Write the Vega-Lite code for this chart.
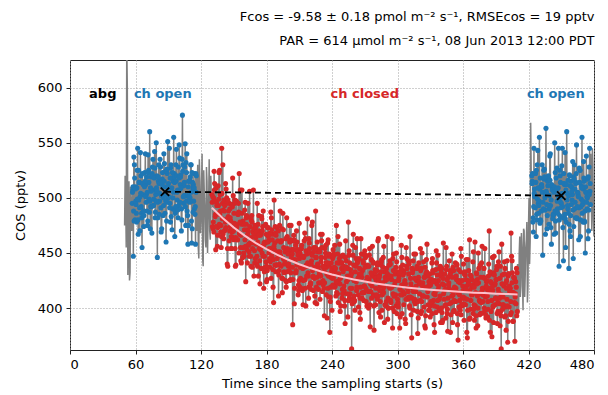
{
"$schema":"https://vega.github.io/schema/vega-lite/v6.json",
"width":524,"height":290,
"autosize":{"type":"none"},
"padding":{"left":70,"top":60,"right":14,"bottom":45},
"title":{"text":["Fᴄᴏꜱ = -9.58 ± 0.18 pmol m⁻² s⁻¹,  RMSEᴄᴏꜱ = 19 pptv","PAR = 614 μmol m⁻² s⁻¹,  08 Jun 2013 12:00 PDT"],"anchor":"end","align":"right","font":"DejaVu Sans","fontSize":13,"fontWeight":"normal","color":"black","lineHeight":24,"offset":12},
"config":{
"view":{"stroke":"#222","strokeWidth":1},
"axis":{"labelFont":"DejaVu Sans","titleFont":"DejaVu Sans","labelFontSize":13,"titleFontSize":13,"titleFontWeight":"normal","labelColor":"black","titleColor":"black","tickColor":"#222","tickSize":4,"domain":false,"grid":true,"gridColor":"#a0a0a0","gridDash":[1,2],"gridWidth":1}
},
"datasets":{
"ts":[
{"t":50,"v":475},{"t":51,"v":500},{"t":52,"v":640},{"t":53,"v":430},{"t":54,"v":515},{"t":55,"v":432},{"t":56,"v":490},
{"t":50.5,"v":520},{"t":51.5,"v":455},{"t":52.5,"v":600},{"t":53.5,"v":500},{"t":54.5,"v":425},{"t":55.5,"v":510},{"t":56.5,"v":470},
{"t":57,"v":495},{"t":58,"v":447},{"t":59,"v":530},{"t":60,"v":510},{"t":61,"v":478},{"t":62,"v":545},{"t":63,"v":498},{"t":64,"v":470},{"t":65,"v":520},{"t":66,"v":455},{"t":67,"v":512},{"t":68,"v":488},{"t":69,"v":540},{"t":70,"v":503},
{"t":71,"v":475},{"t":72,"v":525},{"t":73,"v":560},{"t":74,"v":492},{"t":75,"v":468},{"t":76,"v":535},{"t":77,"v":507},{"t":78,"v":482},{"t":79,"v":550},{"t":80,"v":446},{"t":81,"v":515},{"t":82,"v":497},{"t":83,"v":528},{"t":84,"v":472},{"t":85,"v":510},{"t":86,"v":540},{"t":87,"v":486},{"t":88,"v":460},{"t":89,"v":522},{"t":90,"v":500},
{"t":91,"v":545},{"t":92,"v":478},{"t":93,"v":518},{"t":94,"v":490},{"t":95,"v":555},{"t":96,"v":465},{"t":97,"v":530},{"t":98,"v":505},{"t":99,"v":482},{"t":100,"v":548},{"t":101,"v":512},{"t":102,"v":470},{"t":103,"v":575},{"t":104,"v":495},{"t":105,"v":528},{"t":106,"v":475},{"t":107,"v":540},{"t":108,"v":458},{"t":109,"v":515},{"t":110,"v":500},
{"t":111,"v":530},{"t":112,"v":472},{"t":113,"v":512},{"t":114,"v":490},{"t":115,"v":458},
{"t":57.5,"v":507},{"t":58.5,"v":537},{"t":59.5,"v":480},{"t":60.5,"v":494},{"t":61.5,"v":525},{"t":62.5,"v":467},{"t":63.5,"v":514},{"t":64.5,"v":541},{"t":65.5,"v":486},{"t":66.5,"v":503},
{"t":67.5,"v":474},{"t":68.5,"v":523},{"t":69.5,"v":512},{"t":70.5,"v":488},{"t":71.5,"v":539},{"t":72.5,"v":499},{"t":73.5,"v":472},{"t":74.5,"v":519},{"t":75.5,"v":528},{"t":76.5,"v":493},
{"t":77.5,"v":542},{"t":78.5,"v":503},{"t":79.5,"v":520},{"t":80.5,"v":482},{"t":81.5,"v":513},{"t":82.5,"v":535},{"t":83.5,"v":469},{"t":84.5,"v":517},{"t":85.5,"v":500},{"t":86.5,"v":531},
{"t":87.5,"v":524},{"t":88.5,"v":479},{"t":89.5,"v":551},{"t":90.5,"v":508},{"t":91.5,"v":495},{"t":92.5,"v":530},{"t":93.5,"v":471},{"t":94.5,"v":515},{"t":95.5,"v":522},{"t":96.5,"v":486},
{"t":97.5,"v":544},{"t":98.5,"v":507},{"t":99.5,"v":493},{"t":100.5,"v":536},{"t":101.5,"v":521},{"t":102.5,"v":480},{"t":103.5,"v":530},{"t":104.5,"v":502},{"t":105.5,"v":549},{"t":106.5,"v":497},
{"t":107.5,"v":502},{"t":108.5,"v":475},{"t":109.5,"v":516},{"t":110.5,"v":530},{"t":111.5,"v":459},{"t":112.5,"v":509},{"t":113.5,"v":522},{"t":114.5,"v":485},{"t":115.5,"v":505},
{"t":57.25,"v":505},{"t":58.25,"v":488},{"t":59.25,"v":518},{"t":60.25,"v":497},{"t":61.25,"v":509},{"t":62.25,"v":480},{"t":63.25,"v":514},{"t":64.25,"v":501},{"t":65.25,"v":492},{"t":66.25,"v":522},
{"t":57.75,"v":510},{"t":58.75,"v":479},{"t":59.75,"v":508},{"t":60.75,"v":486},{"t":61.75,"v":499},{"t":62.75,"v":525},{"t":63.75,"v":491},{"t":64.75,"v":504},{"t":65.75,"v":482},{"t":66.75,"v":513},
{"t":67.25,"v":488},{"t":68.25,"v":510},{"t":69.25,"v":501},{"t":70.25,"v":519},{"t":71.25,"v":479},{"t":72.25,"v":514},{"t":73.25,"v":497},{"t":74.25,"v":506},{"t":75.25,"v":522},{"t":76.25,"v":493},
{"t":67.75,"v":484},{"t":68.75,"v":515},{"t":69.75,"v":496},{"t":70.75,"v":505},{"t":71.75,"v":523},{"t":72.75,"v":487},{"t":73.75,"v":509},{"t":74.75,"v":492},{"t":75.75,"v":520},{"t":76.75,"v":499},
{"t":77.25,"v":518},{"t":78.25,"v":487},{"t":79.25,"v":509},{"t":80.25,"v":496},{"t":81.25,"v":530},{"t":82.25,"v":504},{"t":83.25,"v":491},{"t":84.25,"v":513},{"t":85.25,"v":484},{"t":86.25,"v":515},
{"t":77.75,"v":527},{"t":78.75,"v":497},{"t":79.75,"v":506},{"t":80.75,"v":519},{"t":81.75,"v":485},{"t":82.75,"v":514},{"t":83.75,"v":502},{"t":84.75,"v":523},{"t":85.75,"v":493},{"t":86.75,"v":510},
{"t":87.25,"v":503},{"t":88.25,"v":524},{"t":89.25,"v":496},{"t":90.25,"v":513},{"t":91.25,"v":491},{"t":92.25,"v":527},{"t":93.25,"v":509},{"t":94.25,"v":500},{"t":95.25,"v":519},{"t":96.25,"v":488},
{"t":87.75,"v":497},{"t":88.75,"v":526},{"t":89.75,"v":510},{"t":90.75,"v":501},{"t":91.75,"v":518},{"t":92.75,"v":483},{"t":93.75,"v":523},{"t":94.75,"v":505},{"t":95.75,"v":514},{"t":96.75,"v":492},
{"t":97.25,"v":515},{"t":98.25,"v":498},{"t":99.25,"v":528},{"t":100.25,"v":507},{"t":101.25,"v":519},{"t":102.25,"v":490},{"t":103.25,"v":524},{"t":104.25,"v":511},{"t":105.25,"v":502},{"t":106.25,"v":532},
{"t":97.75,"v":520},{"t":98.75,"v":489},{"t":99.75,"v":518},{"t":100.75,"v":496},{"t":101.75,"v":509},{"t":102.75,"v":535},{"t":103.75,"v":501},{"t":104.75,"v":514},{"t":105.75,"v":492},{"t":106.75,"v":523},
{"t":107.25,"v":488},{"t":108.25,"v":510},{"t":109.25,"v":501},{"t":110.25,"v":519},{"t":111.25,"v":479},{"t":112.25,"v":514},{"t":113.25,"v":497},{"t":114.25,"v":506},{"t":115.25,"v":522},
{"t":107.75,"v":484},{"t":108.75,"v":515},{"t":109.75,"v":496},{"t":110.75,"v":505},{"t":111.75,"v":523},{"t":112.75,"v":487},{"t":113.75,"v":509},{"t":114.75,"v":492},{"t":115.75,"v":520},
{"t":116,"v":470},{"t":117,"v":530},{"t":118,"v":445},{"t":119,"v":515},{"t":120,"v":480},{"t":121,"v":540},{"t":122,"v":438},{"t":123,"v":505},{"t":124,"v":462},{"t":125,"v":528},{"t":126,"v":450},{"t":127,"v":498},{"t":128,"v":470},{"t":129,"v":520},
{"t":116.5,"v":505},{"t":117.5,"v":455},{"t":118.5,"v":535},{"t":119.5,"v":468},{"t":120.5,"v":510},{"t":121.5,"v":445},{"t":122.5,"v":525},{"t":123.5,"v":490},{"t":124.5,"v":455},{"t":125.5,"v":515},{"t":126.5,"v":480},{"t":127.5,"v":535},{"t":128.5,"v":462},{"t":129.5,"v":500},
{"t":130,"v":503},{"t":131,"v":472},{"t":132,"v":524},{"t":133,"v":483},{"t":134,"v":509},{"t":135,"v":456},{"t":136,"v":493},{"t":137,"v":525},{"t":138,"v":469},{"t":139,"v":545},
{"t":130.5,"v":474},{"t":131.5,"v":500},{"t":132.5,"v":513},{"t":133.5,"v":453},{"t":134.5,"v":493},{"t":135.5,"v":473},{"t":136.5,"v":523},{"t":137.5,"v":503},{"t":138.5,"v":455},{"t":139.5,"v":481},
{"t":130.25,"v":496},{"t":131.25,"v":478},{"t":132.25,"v":507},{"t":133.25,"v":485},{"t":134.25,"v":496},{"t":135.25,"v":466},{"t":136.25,"v":499},{"t":137.25,"v":485},{"t":138.25,"v":475},{"t":139.25,"v":504},
{"t":130.75,"v":501},{"t":131.75,"v":469},{"t":132.75,"v":497},{"t":133.75,"v":474},{"t":134.75,"v":486},{"t":135.75,"v":511},{"t":136.75,"v":476},{"t":137.75,"v":488},{"t":138.75,"v":465},{"t":139.75,"v":495},
{"t":140,"v":530},{"t":141,"v":498},{"t":142,"v":471},{"t":143,"v":508},{"t":144,"v":440},{"t":145,"v":483},{"t":146,"v":495},{"t":147,"v":474},{"t":148,"v":454},{"t":149,"v":518},
{"t":140.5,"v":489},{"t":141.5,"v":470},{"t":142.5,"v":513},{"t":143.5,"v":500},{"t":144.5,"v":438},{"t":145.5,"v":480},{"t":146.5,"v":490},{"t":147.5,"v":454},{"t":148.5,"v":469},{"t":149.5,"v":502},
{"t":140.25,"v":467},{"t":141.25,"v":488},{"t":142.25,"v":478},{"t":143.25,"v":495},{"t":144.25,"v":454},{"t":145.25,"v":488},{"t":146.25,"v":470},{"t":147.25,"v":479},{"t":148.25,"v":494},{"t":149.25,"v":464},
{"t":140.75,"v":463},{"t":141.75,"v":493},{"t":142.75,"v":473},{"t":143.75,"v":481},{"t":144.75,"v":498},{"t":145.75,"v":461},{"t":146.75,"v":482},{"t":147.75,"v":465},{"t":148.75,"v":492},{"t":149.75,"v":470},
{"t":150,"v":462},{"t":151,"v":498},{"t":152,"v":439},{"t":153,"v":475},{"t":154,"v":485},{"t":155,"v":522},{"t":156,"v":507},{"t":157,"v":441},{"t":158,"v":477},{"t":159,"v":450},
{"t":150.5,"v":477},{"t":151.5,"v":438},{"t":152.5,"v":497},{"t":153.5,"v":462},{"t":154.5,"v":487},{"t":155.5,"v":467},{"t":156.5,"v":443},{"t":157.5,"v":507},{"t":158.5,"v":479},{"t":159.5,"v":447},
{"t":150.25,"v":486},{"t":151.25,"v":454},{"t":152.25,"v":476},{"t":153.25,"v":462},{"t":154.25,"v":495},{"t":155.25,"v":468},{"t":156.25,"v":455},{"t":157.25,"v":476},{"t":158.25,"v":446},{"t":159.25,"v":476},
{"t":150.75,"v":495},{"t":151.75,"v":464},{"t":152.75,"v":473},{"t":153.75,"v":485},{"t":154.75,"v":450},{"t":155.75,"v":478},{"t":156.75,"v":466},{"t":157.75,"v":486},{"t":158.75,"v":455},{"t":159.75,"v":471},
{"t":160,"v":489},{"t":161,"v":424},{"t":162,"v":471},{"t":163,"v":495},{"t":164,"v":451},{"t":165,"v":459},{"t":166,"v":480},{"t":167,"v":437},{"t":168,"v":507},{"t":169,"v":452},
{"t":160.5,"v":496},{"t":161.5,"v":476},{"t":162.5,"v":441},{"t":163.5,"v":457},{"t":164.5,"v":506},{"t":165.5,"v":447},{"t":166.5,"v":484},{"t":167.5,"v":469},{"t":168.5,"v":429},{"t":169.5,"v":475},
{"t":160.25,"v":462},{"t":161.25,"v":482},{"t":162.25,"v":453},{"t":163.25,"v":470},{"t":164.25,"v":447},{"t":165.25,"v":482},{"t":166.25,"v":464},{"t":167.25,"v":454},{"t":168.25,"v":472},{"t":169.25,"v":441},
{"t":160.75,"v":456},{"t":161.75,"v":484},{"t":162.75,"v":467},{"t":163.75,"v":458},{"t":164.75,"v":474},{"t":165.75,"v":438},{"t":166.75,"v":478},{"t":167.75,"v":459},{"t":168.75,"v":467},{"t":169.75,"v":445},
{"t":170,"v":473},{"t":171,"v":440},{"t":172,"v":460},{"t":173,"v":484},{"t":174,"v":422},{"t":175,"v":467},{"t":176,"v":450},{"t":177,"v":488},{"t":178,"v":433},{"t":179,"v":459},
{"t":170.5,"v":458},{"t":171.5,"v":495},{"t":172.5,"v":429},{"t":173.5,"v":470},{"t":174.5,"v":453},{"t":175.5,"v":483},{"t":176.5,"v":474},{"t":177.5,"v":418},{"t":178.5,"v":460},{"t":179.5,"v":442},
{"t":170.25,"v":464},{"t":171.25,"v":447},{"t":172.25,"v":476},{"t":173.25,"v":454},{"t":174.25,"v":466},{"t":175.25,"v":436},{"t":176.25,"v":470},{"t":177.25,"v":456},{"t":178.25,"v":447},{"t":179.25,"v":476},
{"t":170.75,"v":469},{"t":171.75,"v":438},{"t":172.75,"v":466},{"t":173.75,"v":443},{"t":174.75,"v":456},{"t":175.75,"v":481},{"t":176.75,"v":447},{"t":177.75,"v":459},{"t":178.75,"v":437},{"t":179.75,"v":467},
{"t":180,"v":424},{"t":181,"v":473},{"t":182,"v":461},{"t":183,"v":437},{"t":184,"v":487},{"t":185,"v":447},{"t":186,"v":419},{"t":187,"v":498},{"t":188,"v":474},{"t":189,"v":439},
{"t":180.5,"v":426},{"t":181.5,"v":473},{"t":182.5,"v":454},{"t":183.5,"v":442},{"t":184.5,"v":482},{"t":185.5,"v":467},{"t":186.5,"v":405},{"t":187.5,"v":459},{"t":188.5,"v":433},{"t":189.5,"v":473},
{"t":180.25,"v":438},{"t":181.25,"v":460},{"t":182.25,"v":450},{"t":183.25,"v":468},{"t":184.25,"v":427},{"t":185.25,"v":462},{"t":186.25,"v":444},{"t":187.25,"v":453},{"t":188.25,"v":468},{"t":189.25,"v":439},
{"t":180.75,"v":434},{"t":181.75,"v":465},{"t":182.75,"v":445},{"t":183.75,"v":454},{"t":184.75,"v":471},{"t":185.75,"v":435},{"t":186.75,"v":456},{"t":187.75,"v":439},{"t":188.75,"v":466},{"t":189.75,"v":445},
{"t":190,"v":449},{"t":191,"v":411},{"t":192,"v":475},{"t":193,"v":460},{"t":194,"v":427},{"t":195,"v":486},{"t":196,"v":433},{"t":197,"v":451},{"t":198,"v":419},{"t":199,"v":465},
{"t":190.5,"v":451},{"t":191.5,"v":434},{"t":192.5,"v":488},{"t":193.5,"v":461},{"t":194.5,"v":414},{"t":195.5,"v":471},{"t":196.5,"v":440},{"t":197.5,"v":425},{"t":198.5,"v":482},{"t":199.5,"v":451},
{"t":190.25,"v":461},{"t":191.25,"v":430},{"t":192.25,"v":451},{"t":193.25,"v":438},{"t":194.25,"v":472},{"t":195.25,"v":445},{"t":196.25,"v":432},{"t":197.25,"v":453},{"t":198.25,"v":424},{"t":199.25,"v":454},
{"t":190.75,"v":470},{"t":191.75,"v":440},{"t":192.75,"v":448},{"t":193.75,"v":461},{"t":194.75,"v":427},{"t":195.75,"v":455},{"t":196.75,"v":443},{"t":197.75,"v":463},{"t":198.75,"v":433},{"t":199.75,"v":449},
{"t":200,"v":438},{"t":201,"v":475},{"t":202,"v":426},{"t":203,"v":453},{"t":204,"v":385},{"t":205,"v":466},{"t":206,"v":444},{"t":207,"v":432},{"t":208,"v":460},{"t":209,"v":412},
{"t":200.5,"v":439},{"t":201.5,"v":425},{"t":202.5,"v":475},{"t":203.5,"v":449},{"t":204.5,"v":461},{"t":205.5,"v":404},{"t":206.5,"v":432},{"t":207.5,"v":470},{"t":208.5,"v":451},{"t":209.5,"v":416},
{"t":200.25,"v":440},{"t":201.25,"v":460},{"t":202.25,"v":432},{"t":203.25,"v":449},{"t":204.25,"v":426},{"t":205.25,"v":462},{"t":206.25,"v":443},{"t":207.25,"v":434},{"t":208.25,"v":453},{"t":209.25,"v":421},
{"t":200.75,"v":434},{"t":201.75,"v":462},{"t":202.75,"v":446},{"t":203.75,"v":437},{"t":204.75,"v":453},{"t":205.75,"v":418},{"t":206.75,"v":457},{"t":207.75,"v":439},{"t":208.75,"v":448},{"t":209.75,"v":425},
{"t":210,"v":477},{"t":211,"v":437},{"t":212,"v":454},{"t":213,"v":416},{"t":214,"v":446},{"t":215,"v":468},{"t":216,"v":402},{"t":217,"v":449},{"t":218,"v":432},{"t":219,"v":463},
{"t":210.5,"v":419},{"t":211.5,"v":454},{"t":212.5,"v":447},{"t":213.5,"v":403},{"t":214.5,"v":461},{"t":215.5,"v":426},{"t":216.5,"v":439},{"t":217.5,"v":481},{"t":218.5,"v":409},{"t":219.5,"v":454},
{"t":210.25,"v":445},{"t":211.25,"v":427},{"t":212.25,"v":457},{"t":213.25,"v":436},{"t":214.25,"v":447},{"t":215.25,"v":418},{"t":216.25,"v":452},{"t":217.25,"v":438},{"t":218.25,"v":429},{"t":219.25,"v":459},
{"t":210.75,"v":450},{"t":211.75,"v":418},{"t":212.75,"v":447},{"t":213.75,"v":425},{"t":214.75,"v":437},{"t":215.75,"v":463},{"t":216.75,"v":429},{"t":217.75,"v":441},{"t":218.75,"v":419},{"t":219.75,"v":450},
{"t":220,"v":422},{"t":221,"v":440},{"t":222,"v":478},{"t":223,"v":416},{"t":224,"v":427},{"t":225,"v":488},{"t":226,"v":404},{"t":227,"v":451},{"t":228,"v":434},{"t":229,"v":408},
{"t":220.5,"v":423},{"t":221.5,"v":475},{"t":222.5,"v":428},{"t":223.5,"v":455},{"t":224.5,"v":405},{"t":225.5,"v":446},{"t":226.5,"v":460},{"t":227.5,"v":417},{"t":228.5,"v":431},{"t":229.5,"v":467},
{"t":220.25,"v":421},{"t":221.25,"v":443},{"t":222.25,"v":434},{"t":223.25,"v":451},{"t":224.25,"v":411},{"t":225.25,"v":446},{"t":226.25,"v":428},{"t":227.25,"v":437},{"t":228.25,"v":453},{"t":229.25,"v":423},
{"t":220.75,"v":417},{"t":221.75,"v":448},{"t":222.75,"v":429},{"t":223.75,"v":437},{"t":224.75,"v":455},{"t":225.75,"v":419},{"t":226.75,"v":440},{"t":227.75,"v":423},{"t":228.75,"v":451},{"t":229.75,"v":429},
{"t":230,"v":442},{"t":231,"v":467},{"t":232,"v":421},{"t":233,"v":393},{"t":234,"v":450},{"t":235,"v":437},{"t":236,"v":459},{"t":237,"v":410},{"t":238,"v":378},{"t":239,"v":428},
{"t":230.5,"v":461},{"t":231.5,"v":438},{"t":232.5,"v":418},{"t":233.5,"v":454},{"t":234.5,"v":441},{"t":235.5,"v":391},{"t":236.5,"v":462},{"t":237.5,"v":447},{"t":238.5,"v":406},{"t":239.5,"v":433},
{"t":230.25,"v":446},{"t":231.25,"v":415},{"t":232.25,"v":437},{"t":233.25,"v":423},{"t":234.25,"v":457},{"t":235.25,"v":431},{"t":236.25,"v":418},{"t":237.25,"v":439},{"t":238.25,"v":410},{"t":239.25,"v":441},
{"t":230.75,"v":455},{"t":231.75,"v":425},{"t":232.75,"v":434},{"t":233.75,"v":446},{"t":234.75,"v":412},{"t":235.75,"v":441},{"t":236.75,"v":429},{"t":237.75,"v":449},{"t":238.75,"v":419},{"t":239.75,"v":436},
{"t":240,"v":398},{"t":241,"v":453},{"t":242,"v":437},{"t":243,"v":420},{"t":244,"v":475},{"t":245,"v":413},{"t":246,"v":425},{"t":247,"v":458},{"t":248,"v":402},{"t":249,"v":441},
{"t":240.5,"v":445},{"t":241.5,"v":428},{"t":242.5,"v":457},{"t":243.5,"v":411},{"t":244.5,"v":423},{"t":245.5,"v":465},{"t":246.5,"v":441},{"t":247.5,"v":397},{"t":248.5,"v":447},{"t":249.5,"v":417},
{"t":240.25,"v":427},{"t":241.25,"v":447},{"t":242.25,"v":419},{"t":243.25,"v":436},{"t":244.25,"v":414},{"t":245.25,"v":449},{"t":246.25,"v":431},{"t":247.25,"v":422},{"t":248.25,"v":441},{"t":249.25,"v":409},
{"t":240.75,"v":421},{"t":241.75,"v":449},{"t":242.75,"v":433},{"t":243.75,"v":424},{"t":244.75,"v":441},{"t":245.75,"v":405},{"t":246.75,"v":445},{"t":247.75,"v":427},{"t":248.75,"v":436},{"t":249.75,"v":413},
{"t":250,"v":448},{"t":251,"v":420},{"t":252,"v":386},{"t":253,"v":443},{"t":254,"v":429},{"t":255,"v":478},{"t":256,"v":409},{"t":257,"v":435},{"t":258,"v":363},{"t":259,"v":457},
{"t":250.5,"v":436},{"t":251.5,"v":402},{"t":252.5,"v":461},{"t":253.5,"v":437},{"t":254.5,"v":392},{"t":255.5,"v":448},{"t":256.5,"v":413},{"t":257.5,"v":431},{"t":258.5,"v":404},{"t":259.5,"v":467},
{"t":250.25,"v":433},{"t":251.25,"v":416},{"t":252.25,"v":446},{"t":253.25,"v":424},{"t":254.25,"v":436},{"t":255.25,"v":407},{"t":256.25,"v":441},{"t":257.25,"v":428},{"t":258.25,"v":418},{"t":259.25,"v":448},
{"t":250.75,"v":438},{"t":251.75,"v":407},{"t":252.75,"v":436},{"t":253.75,"v":413},{"t":254.75,"v":426},{"t":255.75,"v":452},{"t":256.75,"v":418},{"t":257.75,"v":431},{"t":258.75,"v":408},{"t":259.75,"v":439},
{"t":260,"v":425},{"t":261,"v":398},{"t":262,"v":445},{"t":263,"v":463},{"t":264,"v":412},{"t":265,"v":431},{"t":266,"v":390},{"t":267,"v":449},{"t":268,"v":434},{"t":269,"v":407},
{"t":260.5,"v":406},{"t":261.5,"v":455},{"t":262.5,"v":416},{"t":263.5,"v":442},{"t":264.5,"v":428},{"t":265.5,"v":396},{"t":266.5,"v":463},{"t":267.5,"v":409},{"t":268.5,"v":449},{"t":269.5,"v":420},
{"t":260.25,"v":411},{"t":261.25,"v":433},{"t":262.25,"v":424},{"t":263.25,"v":441},{"t":264.25,"v":401},{"t":265.25,"v":436},{"t":266.25,"v":419},{"t":267.25,"v":428},{"t":268.25,"v":443},{"t":269.25,"v":414},
{"t":260.75,"v":407},{"t":261.75,"v":438},{"t":262.75,"v":419},{"t":263.75,"v":427},{"t":264.75,"v":445},{"t":265.75,"v":409},{"t":266.75,"v":431},{"t":267.75,"v":414},{"t":268.75,"v":441},{"t":269.75,"v":420},
{"t":270,"v":452},{"t":271,"v":418},{"t":272,"v":402},{"t":273,"v":438},{"t":274,"v":426},{"t":275,"v":383},{"t":276,"v":444},{"t":277,"v":456},{"t":278,"v":412},{"t":279,"v":429},
{"t":270.5,"v":448},{"t":271.5,"v":425},{"t":272.5,"v":439},{"t":273.5,"v":400},{"t":274.5,"v":454},{"t":275.5,"v":415},{"t":276.5,"v":429},{"t":277.5,"v":442},{"t":278.5,"v":380},{"t":279.5,"v":435},
{"t":270.25,"v":437},{"t":271.25,"v":406},{"t":272.25,"v":428},{"t":273.25,"v":415},{"t":274.25,"v":448},{"t":275.25,"v":422},{"t":276.25,"v":409},{"t":277.25,"v":431},{"t":278.25,"v":402},{"t":279.25,"v":432},
{"t":270.75,"v":446},{"t":271.75,"v":416},{"t":272.75,"v":425},{"t":273.75,"v":438},{"t":274.75,"v":403},{"t":275.75,"v":432},{"t":276.75,"v":420},{"t":277.75,"v":441},{"t":278.75,"v":411},{"t":279.75,"v":427},
{"t":280,"v":403},{"t":281,"v":434},{"t":282,"v":461},{"t":283,"v":396},{"t":284,"v":420},{"t":285,"v":439},{"t":286,"v":412},{"t":287,"v":446},{"t":288,"v":387},{"t":289,"v":425},
{"t":280.5,"v":425},{"t":281.5,"v":408},{"t":282.5,"v":463},{"t":283.5,"v":430},{"t":284.5,"v":392},{"t":285.5,"v":444},{"t":286.5,"v":416},{"t":287.5,"v":456},{"t":288.5,"v":403},{"t":289.5,"v":433},
{"t":280.25,"v":418},{"t":281.25,"v":439},{"t":282.25,"v":411},{"t":283.25,"v":428},{"t":284.25,"v":406},{"t":285.25,"v":442},{"t":286.25,"v":423},{"t":287.25,"v":414},{"t":288.25,"v":433},{"t":289.25,"v":402},
{"t":280.75,"v":412},{"t":281.75,"v":441},{"t":282.75,"v":425},{"t":283.75,"v":416},{"t":284.75,"v":433},{"t":285.75,"v":398},{"t":286.75,"v":437},{"t":287.75,"v":419},{"t":288.75,"v":428},{"t":289.75,"v":406},
{"t":290,"v":436},{"t":291,"v":390},{"t":292,"v":429},{"t":293,"v":443},{"t":294,"v":405},{"t":295,"v":463},{"t":296,"v":413},{"t":297,"v":397},{"t":298,"v":431},{"t":299,"v":450},
{"t":290.5,"v":465},{"t":291.5,"v":400},{"t":292.5,"v":419},{"t":293.5,"v":440},{"t":294.5,"v":426},{"t":295.5,"v":382},{"t":296.5,"v":449},{"t":297.5,"v":411},{"t":298.5,"v":437},{"t":299.5,"v":395},
{"t":290.25,"v":426},{"t":291.25,"v":409},{"t":292.25,"v":439},{"t":293.25,"v":418},{"t":294.25,"v":429},{"t":295.25,"v":400},{"t":296.25,"v":434},{"t":297.25,"v":421},{"t":298.25,"v":412},{"t":299.25,"v":442},
{"t":290.75,"v":431},{"t":291.75,"v":400},{"t":292.75,"v":429},{"t":293.75,"v":407},{"t":294.75,"v":419},{"t":295.75,"v":445},{"t":296.75,"v":411},{"t":297.75,"v":424},{"t":298.75,"v":402},{"t":299.75,"v":433},
{"t":300,"v":408},{"t":301,"v":425},{"t":302,"v":382},{"t":303,"v":437},{"t":304,"v":446},{"t":305,"v":415},{"t":306,"v":432},{"t":307,"v":390},{"t":308,"v":455},{"t":309,"v":418},
{"t":300.5,"v":404},{"t":301.5,"v":430},{"t":302.5,"v":392},{"t":303.5,"v":457},{"t":304.5,"v":412},{"t":305.5,"v":434},{"t":306.5,"v":423},{"t":307.5,"v":386},{"t":308.5,"v":445},{"t":309.5,"v":408},
{"t":300.25,"v":405},{"t":301.25,"v":427},{"t":302.25,"v":417},{"t":303.25,"v":435},{"t":304.25,"v":395},{"t":305.25,"v":430},{"t":306.25,"v":413},{"t":307.25,"v":422},{"t":308.25,"v":438},{"t":309.25,"v":409},
{"t":300.75,"v":401},{"t":301.75,"v":432},{"t":302.75,"v":412},{"t":303.75,"v":421},{"t":304.75,"v":439},{"t":305.75,"v":403},{"t":306.75,"v":425},{"t":307.75,"v":408},{"t":308.75,"v":436},{"t":309.75,"v":415},
{"t":310,"v":443},{"t":311,"v":402},{"t":312,"v":427},{"t":313,"v":373},{"t":314,"v":434},{"t":315,"v":449},{"t":316,"v":408},{"t":317,"v":420},{"t":318,"v":438},{"t":319,"v":391},
{"t":310.5,"v":410},{"t":311.5,"v":465},{"t":312.5,"v":394},{"t":313.5,"v":436},{"t":314.5,"v":415},{"t":315.5,"v":406},{"t":316.5,"v":449},{"t":317.5,"v":425},{"t":318.5,"v":377},{"t":319.5,"v":441},
{"t":310.25,"v":431},{"t":311.25,"v":400},{"t":312.25,"v":422},{"t":313.25,"v":409},{"t":314.25,"v":443},{"t":315.25,"v":417},{"t":316.25,"v":404},{"t":317.25,"v":426},{"t":318.25,"v":397},{"t":319.25,"v":428},
{"t":310.75,"v":440},{"t":311.75,"v":410},{"t":312.75,"v":419},{"t":313.75,"v":432},{"t":314.75,"v":398},{"t":315.75,"v":427},{"t":316.75,"v":415},{"t":317.75,"v":436},{"t":318.75,"v":406},{"t":319.75,"v":423},
{"t":320,"v":424},{"t":321,"v":454},{"t":322,"v":397},{"t":323,"v":411},{"t":324,"v":442},{"t":325,"v":384},{"t":326,"v":431},{"t":327,"v":458},{"t":328,"v":403},{"t":329,"v":420},
{"t":320.5,"v":422},{"t":321.5,"v":395},{"t":322.5,"v":450},{"t":323.5,"v":411},{"t":324.5,"v":428},{"t":325.5,"v":382},{"t":326.5,"v":444},{"t":327.5,"v":419},{"t":328.5,"v":398},{"t":329.5,"v":431},
{"t":320.25,"v":413},{"t":321.25,"v":434},{"t":322.25,"v":406},{"t":323.25,"v":423},{"t":324.25,"v":401},{"t":325.25,"v":437},{"t":326.25,"v":419},{"t":327.25,"v":410},{"t":328.25,"v":429},{"t":329.25,"v":398},
{"t":320.75,"v":407},{"t":321.75,"v":436},{"t":322.75,"v":420},{"t":323.75,"v":411},{"t":324.75,"v":428},{"t":325.75,"v":393},{"t":326.75,"v":433},{"t":327.75,"v":415},{"t":328.75,"v":424},{"t":329.75,"v":402},
{"t":330,"v":392},{"t":331,"v":426},{"t":332,"v":445},{"t":333,"v":407},{"t":334,"v":378},{"t":335,"v":435},{"t":336,"v":422},{"t":337,"v":448},{"t":338,"v":398},{"t":339,"v":411},
{"t":330.5,"v":406},{"t":331.5,"v":441},{"t":332.5,"v":432},{"t":333.5,"v":385},{"t":334.5,"v":412},{"t":335.5,"v":452},{"t":336.5,"v":401},{"t":337.5,"v":425},{"t":338.5,"v":436},{"t":339.5,"v":387},
{"t":330.25,"v":421},{"t":331.25,"v":404},{"t":332.25,"v":434},{"t":333.25,"v":413},{"t":334.25,"v":425},{"t":335.25,"v":396},{"t":336.25,"v":430},{"t":337.25,"v":417},{"t":338.25,"v":408},{"t":339.25,"v":438},
{"t":330.75,"v":426},{"t":331.75,"v":395},{"t":332.75,"v":424},{"t":333.75,"v":402},{"t":334.75,"v":415},{"t":335.75,"v":441},{"t":336.75,"v":407},{"t":337.75,"v":420},{"t":338.75,"v":398},{"t":339.75,"v":429},
{"t":340,"v":432},{"t":341,"v":387},{"t":342,"v":459},{"t":343,"v":416},{"t":344,"v":403},{"t":345,"v":438},{"t":346,"v":379},{"t":347,"v":423},{"t":348,"v":430},{"t":349,"v":394},
{"t":340.5,"v":436},{"t":341.5,"v":389},{"t":342.5,"v":421},{"t":343.5,"v":402},{"t":344.5,"v":455},{"t":345.5,"v":395},{"t":346.5,"v":428},{"t":347.5,"v":443},{"t":348.5,"v":378},{"t":349.5,"v":416},
{"t":340.25,"v":400},{"t":341.25,"v":422},{"t":342.25,"v":413},{"t":343.25,"v":431},{"t":344.25,"v":391},{"t":345.25,"v":426},{"t":346.25,"v":409},{"t":347.25,"v":418},{"t":348.25,"v":434},{"t":349.25,"v":405},
{"t":340.75,"v":396},{"t":341.75,"v":427},{"t":342.75,"v":408},{"t":343.75,"v":417},{"t":344.75,"v":435},{"t":345.75,"v":399},{"t":346.75,"v":421},{"t":347.75,"v":404},{"t":348.75,"v":432},{"t":349.75,"v":411},
{"t":350,"v":449},{"t":351,"v":412},{"t":352,"v":398},{"t":353,"v":441},{"t":354,"v":426},{"t":355,"v":385},{"t":356,"v":435},{"t":357,"v":407},{"t":358,"v":454},{"t":359,"v":402},
{"t":350.5,"v":387},{"t":351.5,"v":434},{"t":352.5,"v":406},{"t":353.5,"v":418},{"t":354.5,"v":439},{"t":355.5,"v":371},{"t":356.5,"v":425},{"t":357.5,"v":398},{"t":358.5,"v":447},{"t":359.5,"v":409},
{"t":350.25,"v":428},{"t":351.25,"v":397},{"t":352.25,"v":419},{"t":353.25,"v":406},{"t":354.25,"v":440},{"t":355.25,"v":414},{"t":356.25,"v":401},{"t":357.25,"v":423},{"t":358.25,"v":394},{"t":359.25,"v":425},
{"t":350.75,"v":437},{"t":351.75,"v":407},{"t":352.75,"v":416},{"t":353.75,"v":429},{"t":354.75,"v":395},{"t":355.75,"v":424},{"t":356.75,"v":412},{"t":357.75,"v":433},{"t":358.75,"v":403},{"t":359.75,"v":420},
{"t":360,"v":416},{"t":361,"v":389},{"t":362,"v":430},{"t":363,"v":444},{"t":364,"v":373},{"t":365,"v":423},{"t":366,"v":462},{"t":367,"v":399},{"t":368,"v":419},{"t":369,"v":442},
{"t":360.5,"v":440},{"t":361.5,"v":409},{"t":362.5,"v":426},{"t":363.5,"v":378},{"t":364.5,"v":444},{"t":365.5,"v":422},{"t":366.5,"v":391},{"t":367.5,"v":429},{"t":368.5,"v":412},{"t":369.5,"v":451},
{"t":360.25,"v":410},{"t":361.25,"v":431},{"t":362.25,"v":403},{"t":363.25,"v":420},{"t":364.25,"v":398},{"t":365.25,"v":434},{"t":366.25,"v":416},{"t":367.25,"v":407},{"t":368.25,"v":426},{"t":369.25,"v":395},
{"t":360.75,"v":404},{"t":361.75,"v":433},{"t":362.75,"v":417},{"t":363.75,"v":408},{"t":364.75,"v":425},{"t":365.75,"v":390},{"t":366.75,"v":430},{"t":367.75,"v":412},{"t":368.75,"v":421},{"t":369.75,"v":399},
{"t":370,"v":403},{"t":371,"v":460},{"t":372,"v":382},{"t":373,"v":426},{"t":374,"v":450},{"t":375,"v":407},{"t":376,"v":395},{"t":377,"v":441},{"t":378,"v":412},{"t":379,"v":428},
{"t":370.5,"v":389},{"t":371.5,"v":414},{"t":372.5,"v":431},{"t":373.5,"v":384},{"t":374.5,"v":436},{"t":375.5,"v":406},{"t":376.5,"v":395},{"t":377.5,"v":456},{"t":378.5,"v":418},{"t":379.5,"v":400},
{"t":370.25,"v":419},{"t":371.25,"v":402},{"t":372.25,"v":432},{"t":373.25,"v":411},{"t":374.25,"v":423},{"t":375.25,"v":394},{"t":376.25,"v":428},{"t":377.25,"v":415},{"t":378.25,"v":406},{"t":379.25,"v":436},
{"t":370.75,"v":424},{"t":371.75,"v":393},{"t":372.75,"v":422},{"t":373.75,"v":400},{"t":374.75,"v":413},{"t":375.75,"v":439},{"t":376.75,"v":405},{"t":377.75,"v":418},{"t":378.75,"v":396},{"t":379.75,"v":427},
{"t":380,"v":454},{"t":381,"v":391},{"t":382,"v":417},{"t":383,"v":399},{"t":384,"v":470},{"t":385,"v":378},{"t":386,"v":423},{"t":387,"v":446},{"t":388,"v":387},{"t":389,"v":421},
{"t":380.5,"v":410},{"t":381.5,"v":424},{"t":382.5,"v":392},{"t":383.5,"v":440},{"t":384.5,"v":418},{"t":385.5,"v":431},{"t":386.5,"v":374},{"t":387.5,"v":401},{"t":388.5,"v":447},{"t":389.5,"v":422},
{"t":380.25,"v":398},{"t":381.25,"v":420},{"t":382.25,"v":411},{"t":383.25,"v":429},{"t":384.25,"v":389},{"t":385.25,"v":424},{"t":386.25,"v":407},{"t":387.25,"v":416},{"t":388.25,"v":432},{"t":389.25,"v":403},
{"t":380.75,"v":394},{"t":381.75,"v":425},{"t":382.75,"v":406},{"t":383.75,"v":415},{"t":384.75,"v":433},{"t":385.75,"v":397},{"t":386.75,"v":419},{"t":387.75,"v":402},{"t":388.75,"v":430},{"t":389.75,"v":409},
{"t":390,"v":409},{"t":391,"v":438},{"t":392,"v":397},{"t":393,"v":451},{"t":394,"v":384},{"t":395,"v":363},{"t":396,"v":430},{"t":397,"v":403},{"t":398,"v":442},{"t":399,"v":393},
{"t":390.5,"v":426},{"t":391.5,"v":386},{"t":392.5,"v":442},{"t":393.5,"v":409},{"t":394.5,"v":397},{"t":395.5,"v":458},{"t":396.5,"v":403},{"t":397.5,"v":420},{"t":398.5,"v":436},{"t":399.5,"v":380},
{"t":390.25,"v":426},{"t":391.25,"v":395},{"t":392.25,"v":417},{"t":393.25,"v":404},{"t":394.25,"v":438},{"t":395.25,"v":412},{"t":396.25,"v":399},{"t":397.25,"v":421},{"t":398.25,"v":392},{"t":399.25,"v":423},
{"t":390.75,"v":435},{"t":391.75,"v":405},{"t":392.75,"v":414},{"t":393.75,"v":427},{"t":394.75,"v":393},{"t":395.75,"v":422},{"t":396.75,"v":410},{"t":397.75,"v":431},{"t":398.75,"v":401},{"t":399.75,"v":418},
{"t":400,"v":425},{"t":401,"v":369},{"t":402,"v":431},{"t":403,"v":418},{"t":404,"v":468},{"t":405,"v":443},{"t":406,"v":388},{"t":407,"v":427},{"t":408,"v":413},{"t":409,"v":436},
{"t":400.5,"v":443},{"t":401.5,"v":388},{"t":402.5,"v":420},{"t":403.5,"v":394},{"t":404.5,"v":447},{"t":405.5,"v":414},{"t":406.5,"v":428},{"t":407.5,"v":370},{"t":408.5,"v":404},{"t":409.5,"v":432},
{"t":400.25,"v":408},{"t":401.25,"v":429},{"t":402.25,"v":401},{"t":403.25,"v":418},{"t":404.25,"v":396},{"t":405.25,"v":432},{"t":406.25,"v":414},{"t":407.25,"v":405},{"t":408.25,"v":424},{"t":409.25,"v":393},
{"t":400.75,"v":402},{"t":401.75,"v":431},{"t":402.75,"v":415},{"t":403.75,"v":406},{"t":404.75,"v":423},{"t":405.75,"v":388},{"t":406.75,"v":428},{"t":407.75,"v":410},{"t":408.75,"v":419},{"t":409.75,"v":397},
{"t":410,"v":440},{"t":411,"v":395},{"t":412,"v":465},{"t":413,"v":420},{"t":414,"v":455},{"t":415,"v":398},{"t":416,"v":470},{"t":417,"v":430},{"t":418,"v":462},{"t":419,"v":405},{"t":420,"v":475},{"t":421,"v":440},{"t":422,"v":568},
{"t":410.5,"v":420},{"t":411.5,"v":450},{"t":412.5,"v":410},{"t":413.5,"v":468},{"t":414.5,"v":425},{"t":415.5,"v":472},{"t":416.5,"v":410},{"t":417.5,"v":455},{"t":418.5,"v":478},{"t":419.5,"v":420},{"t":420.5,"v":500},{"t":421.5,"v":460},{"t":422.5,"v":520},
{"t":423,"v":520},{"t":424,"v":478},{"t":425,"v":545},{"t":426,"v":502},{"t":427,"v":465},{"t":428,"v":530},{"t":429,"v":495},{"t":430,"v":555},{"t":431,"v":480},{"t":432,"v":512},{"t":433,"v":448},{"t":434,"v":525},{"t":435,"v":500},{"t":436,"v":563},{"t":437,"v":472},{"t":438,"v":518},{"t":439,"v":490},{"t":440,"v":540},
{"t":441,"v":458},{"t":442,"v":510},{"t":443,"v":485},{"t":444,"v":550},{"t":445,"v":468},{"t":446,"v":527},{"t":447,"v":502},{"t":448,"v":438},{"t":449,"v":520},{"t":450,"v":495},{"t":451,"v":545},{"t":452,"v":443},{"t":453,"v":512},{"t":454,"v":455},{"t":455,"v":560},{"t":456,"v":490},{"t":457,"v":436},{"t":458,"v":470},{"t":459,"v":515},{"t":460,"v":498},
{"t":461,"v":445},{"t":462,"v":530},{"t":463,"v":482},{"t":464,"v":548},{"t":465,"v":505},{"t":466,"v":462},{"t":467,"v":525},{"t":468,"v":492},{"t":469,"v":555},{"t":470,"v":478},{"t":471,"v":515},{"t":472,"v":450},{"t":473,"v":538},{"t":474,"v":500},{"t":475,"v":470},{"t":476,"v":545},
{"t":423.5,"v":515},{"t":424.5,"v":469},{"t":425.5,"v":508},{"t":426.5,"v":522},{"t":427.5,"v":485},{"t":428.5,"v":543},{"t":429.5,"v":493},{"t":430.5,"v":477},{"t":431.5,"v":511},{"t":432.5,"v":530},
{"t":433.5,"v":489},{"t":434.5,"v":526},{"t":435.5,"v":467},{"t":436.5,"v":504},{"t":437.5,"v":515},{"t":438.5,"v":493},{"t":439.5,"v":538},{"t":440.5,"v":473},{"t":441.5,"v":510},{"t":442.5,"v":484},
{"t":443.5,"v":467},{"t":444.5,"v":523},{"t":445.5,"v":507},{"t":446.5,"v":490},{"t":447.5,"v":545},{"t":448.5,"v":484},{"t":449.5,"v":496},{"t":450.5,"v":529},{"t":451.5,"v":473},{"t":452.5,"v":513},
{"t":453.5,"v":541},{"t":454.5,"v":478},{"t":455.5,"v":504},{"t":456.5,"v":486},{"t":457.5,"v":521},{"t":458.5,"v":465},{"t":459.5,"v":510},{"t":460.5,"v":533},{"t":461.5,"v":474},{"t":462.5,"v":508},
{"t":463.5,"v":514},{"t":464.5,"v":481},{"t":465.5,"v":502},{"t":466.5,"v":527},{"t":467.5,"v":465},{"t":468.5,"v":511},{"t":469.5,"v":494},{"t":470.5,"v":533},{"t":471.5,"v":478},{"t":472.5,"v":505},
{"t":473.5,"v":501},{"t":474.5,"v":463},{"t":475.5,"v":528},{"t":476.5,"v":513},
{"t":423.25,"v":513},{"t":424.25,"v":482},{"t":425.25,"v":504},{"t":426.25,"v":491},{"t":427.25,"v":525},{"t":428.25,"v":499},{"t":429.25,"v":486},{"t":430.25,"v":508},{"t":431.25,"v":479},{"t":432.25,"v":510},
{"t":423.75,"v":522},{"t":424.75,"v":492},{"t":425.75,"v":501},{"t":426.75,"v":514},{"t":427.75,"v":480},{"t":428.75,"v":509},{"t":429.75,"v":497},{"t":430.75,"v":518},{"t":431.75,"v":488},{"t":432.75,"v":505},
{"t":433.25,"v":496},{"t":434.25,"v":517},{"t":435.25,"v":489},{"t":436.25,"v":506},{"t":437.25,"v":484},{"t":438.25,"v":520},{"t":439.25,"v":502},{"t":440.25,"v":493},{"t":441.25,"v":512},{"t":442.25,"v":481},
{"t":433.75,"v":490},{"t":434.75,"v":519},{"t":435.75,"v":503},{"t":436.75,"v":494},{"t":437.75,"v":511},{"t":438.75,"v":476},{"t":439.75,"v":516},{"t":440.75,"v":498},{"t":441.75,"v":507},{"t":442.75,"v":485},
{"t":443.25,"v":505},{"t":444.25,"v":488},{"t":445.25,"v":518},{"t":446.25,"v":497},{"t":447.25,"v":509},{"t":448.25,"v":480},{"t":449.25,"v":514},{"t":450.25,"v":501},{"t":451.25,"v":492},{"t":452.25,"v":522},
{"t":443.75,"v":510},{"t":444.75,"v":479},{"t":445.75,"v":508},{"t":446.75,"v":486},{"t":447.75,"v":499},{"t":448.75,"v":525},{"t":449.75,"v":491},{"t":450.75,"v":504},{"t":451.75,"v":482},{"t":452.75,"v":513},
{"t":453.25,"v":485},{"t":454.25,"v":507},{"t":455.25,"v":498},{"t":456.25,"v":516},{"t":457.25,"v":476},{"t":458.25,"v":511},{"t":459.25,"v":494},{"t":460.25,"v":503},{"t":461.25,"v":519},{"t":462.25,"v":490},
{"t":453.75,"v":481},{"t":454.75,"v":512},{"t":455.75,"v":493},{"t":456.75,"v":502},{"t":457.75,"v":520},{"t":458.75,"v":484},{"t":459.75,"v":506},{"t":460.75,"v":489},{"t":461.75,"v":517},{"t":462.75,"v":496},
{"t":463.25,"v":513},{"t":464.25,"v":482},{"t":465.25,"v":504},{"t":466.25,"v":491},{"t":467.25,"v":525},{"t":468.25,"v":499},{"t":469.25,"v":486},{"t":470.25,"v":508},{"t":471.25,"v":479},{"t":472.25,"v":510},
{"t":463.75,"v":522},{"t":464.75,"v":492},{"t":465.75,"v":501},{"t":466.75,"v":514},{"t":467.75,"v":480},{"t":468.75,"v":509},{"t":469.75,"v":497},{"t":470.75,"v":518},{"t":471.75,"v":488},{"t":472.75,"v":505},
{"t":473.25,"v":496},{"t":474.25,"v":517},{"t":475.25,"v":489},{"t":476.25,"v":506},
{"t":473.75,"v":490},{"t":474.75,"v":519},{"t":475.75,"v":503},{"t":476.75,"v":494},
{"t":477,"v":540},{"t":478,"v":470},{"t":479,"v":530},{"t":480,"v":465},{"t":481,"v":520},
{"t":477.5,"v":500},{"t":478.5,"v":545},{"t":479.5,"v":480},{"t":480.5,"v":510}
],
"fit":[
{"t":130,"v":491},{"t":140,"v":481.5},{"t":150,"v":473.1},{"t":160,"v":465.7},{"t":170,"v":459.1},{"t":180,"v":453.4},{"t":190,"v":448.3},{"t":200,"v":443.8},{"t":210,"v":439.8},{"t":220,"v":436.3},{"t":230,"v":433.2},{"t":240,"v":430.5},{"t":250,"v":428.1},{"t":260,"v":426.0},{"t":270,"v":424.1},{"t":280,"v":422.4},{"t":290,"v":421.0},{"t":300,"v":419.7},{"t":310,"v":418.5},{"t":320,"v":417.5},{"t":330,"v":416.6},{"t":340,"v":415.9},{"t":350,"v":415.2},{"t":360,"v":414.6},{"t":370,"v":414.0},{"t":380,"v":413.6},{"t":390,"v":413.1},{"t":400,"v":412.8},{"t":410,"v":412.4}
],
"amb":[{"t":87,"v":505.5},{"t":450,"v":502}],
"labels":[
{"t":30,"v":594,"text":"abg","c":"k"},
{"t":85,"v":594,"text":"ch open","c":"o"},
{"t":270,"v":594,"text":"ch closed","c":"c"},
{"t":445,"v":594,"text":"ch open","c":"o"}
]
},
"layer":[
{"data":{"name":"ts"},
 "mark":{"type":"line","color":"#808080","strokeWidth":1.5,"clip":true},
 "encoding":{
  "x":{"field":"t","type":"quantitative","scale":{"domain":[0,480],"nice":false},"axis":{"values":[0,60,120,180,240,300,360,420,480],"title":"Time since the sampling starts (s)","labelPadding":4,"titlePadding":6}},
  "y":{"field":"v","type":"quantitative","scale":{"domain":[362,625],"nice":false,"zero":false},"axis":{"values":[400,450,500,550,600],"title":"COS (pptv)","labelPadding":4,"titlePadding":10}},
  "order":{"field":"t","type":"quantitative"}
 }},
{"data":{"name":"ts"},
 "transform":[{"filter":"(datum.t >= 57 && datum.t < 116) || (datum.t >= 423 && datum.t < 477)"}],
 "mark":{"type":"circle","size":26,"opacity":1,"color":"#1f77b4","clip":true},
 "encoding":{"x":{"field":"t","type":"quantitative"},"y":{"field":"v","type":"quantitative"}}},
{"data":{"name":"ts"},
 "transform":[{"filter":"datum.t >= 130 && datum.t < 410"}],
 "mark":{"type":"circle","size":26,"opacity":1,"color":"#d62728","clip":true},
 "encoding":{"x":{"field":"t","type":"quantitative"},"y":{"field":"v","type":"quantitative"}}},
{"data":{"name":"fit"},
 "mark":{"type":"line","color":"#ffc0cb","strokeWidth":2,"clip":true},
 "encoding":{"x":{"field":"t","type":"quantitative"},"y":{"field":"v","type":"quantitative"}}},
{"data":{"name":"amb"},
 "mark":{"type":"line","color":"black","strokeWidth":1.8,"strokeDash":[6,4]},
 "encoding":{"x":{"field":"t","type":"quantitative"},"y":{"field":"v","type":"quantitative"}}},
{"data":{"name":"amb"},
 "mark":{"type":"point","shape":"M-1,-1L1,1M-1,1L1,-1","filled":false,"stroke":"black","strokeWidth":1.8,"size":70,"opacity":1},
 "encoding":{"x":{"field":"t","type":"quantitative"},"y":{"field":"v","type":"quantitative"}}},
{"data":{"name":"labels"},
 "mark":{"type":"text","font":"DejaVu Sans","fontSize":13,"fontWeight":"bold","baseline":"middle","align":"center"},
 "encoding":{"x":{"field":"t","type":"quantitative"},"y":{"field":"v","type":"quantitative"},"text":{"field":"text"},
  "color":{"field":"c","type":"nominal","scale":{"domain":["k","o","c"],"range":["#000000","#1f77b4","#d62728"]},"legend":null}}}
]
}
